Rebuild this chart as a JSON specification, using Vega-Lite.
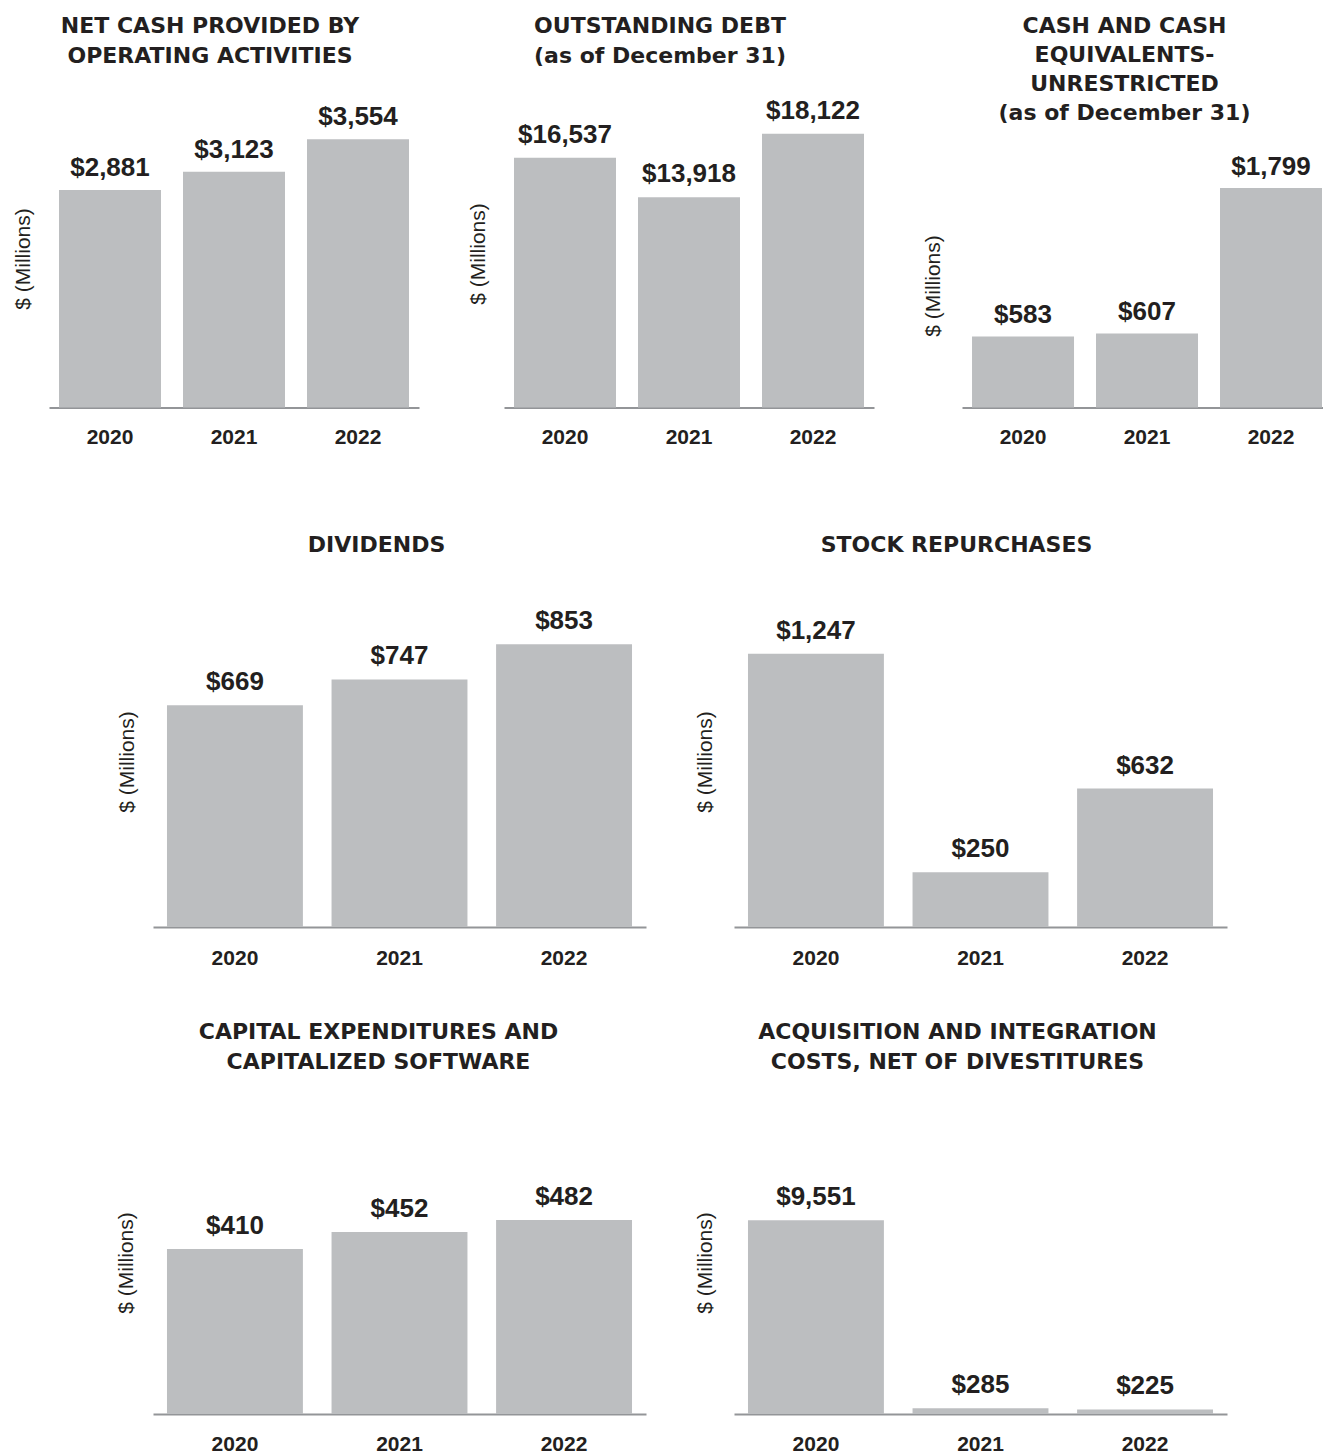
{
  "$schema": "https://vega.github.io/schema/vega-lite/v6.json",
  "padding": {"left": 12, "top": 14.5, "right": 0, "bottom": 0},
  "background": "white",
  "config": {
    "view": {"stroke": null},
    "font": "Liberation Sans",
    "axis": {"grid": false, "ticks": false, "tickSize": 0, "domainColor": "#939598", "domainWidth": 2, "labelFont": "Liberation Sans", "labelFontSize": 21, "labelFontWeight": "bold", "labelColor": "#231f20", "titleFont": "Liberation Sans", "titleFontSize": 21, "titleFontWeight": "normal", "titleColor": "#231f20"},
    "axisY": {"domain": false, "labels": false, "ticks": false},
    "axisX": {"labelAngle": 0, "title": null},
    "title": {"font": "DejaVu Sans", "fontSize": 22, "fontWeight": "bold", "color": "#231f20", "anchor": "middle", "frame": "group"},
    "bar": {"color": "#bcbec0"},
    "text": {"font": "Liberation Sans", "fontSize": 26, "fontWeight": "bold", "color": "#231f20", "baseline": "alphabetic"}
  },
  "datasets": {
    "ncf": [{"year": "2020", "value": 2881}, {"year": "2021", "value": 3123}, {"year": "2022", "value": 3554}],
    "debt": [{"year": "2020", "value": 16537}, {"year": "2021", "value": 13918}, {"year": "2022", "value": 18122}],
    "cash": [{"year": "2020", "value": 583}, {"year": "2021", "value": 607}, {"year": "2022", "value": 1799}],
    "div": [{"year": "2020", "value": 669}, {"year": "2021", "value": 747}, {"year": "2022", "value": 853}],
    "rep": [{"year": "2020", "value": 1247}, {"year": "2021", "value": 250}, {"year": "2022", "value": 632}],
    "capex": [{"year": "2020", "value": 410}, {"year": "2021", "value": 452}, {"year": "2022", "value": 482}],
    "acq": [{"year": "2020", "value": 9551}, {"year": "2021", "value": 285}, {"year": "2022", "value": 225}]
  },
  "spacing": 86.5,
  "vconcat": [
    {
      "spacing": 48,
      "hconcat": [
        {
          "width": 370, "height": 278,
          "data": {"name": "ncf"},
          "title": {"text": ["NET CASH PROVIDED BY", "OPERATING ACTIVITIES"], "offset": 36, "dx": -24, "lineHeight": 30},
          "encoding": {
            "x": {"field": "year", "type": "nominal", "scale": {"paddingInner": 0.1774, "paddingOuter": 0.0806}, "axis": {"labelPadding": 18.5}},
            "y": {"field": "value", "type": "quantitative", "scale": {"domain": [0, 3682], "nice": false}, "axis": {"title": "$ (Millions)", "titlePadding": 16, "titleY": 129}}
          },
          "layer": [
            {"mark": {"type": "bar"}},
            {"mark": {"type": "text", "dy": -14}, "encoding": {"text": {"field": "value", "type": "quantitative", "format": "$,.0f"}}}
          ]
        },
        {
          "width": 370, "height": 278,
          "data": {"name": "debt"},
          "title": {"text": ["OUTSTANDING DEBT", "(as of December 31)"], "offset": 30, "dx": -29, "lineHeight": 30},
          "encoding": {
            "x": {"field": "year", "type": "nominal", "scale": {"paddingInner": 0.1774, "paddingOuter": 0.0806}, "axis": {"labelPadding": 18.5}},
            "y": {"field": "value", "type": "quantitative", "scale": {"domain": [0, 18410], "nice": false}, "axis": {"title": "$ (Millions)", "titlePadding": 16, "titleY": 124}}
          },
          "layer": [
            {"mark": {"type": "bar"}},
            {"mark": {"type": "text", "dy": -15}, "encoding": {"text": {"field": "value", "type": "quantitative", "format": "$,.0f"}}}
          ]
        },
        {
          "width": 361, "height": 278,
          "data": {"name": "cash"},
          "title": {"text": ["CASH AND CASH", "EQUIVALENTS-", "UNRESTRICTED", "(as of December 31)"], "offset": 5, "dx": -18, "lineHeight": 29},
          "encoding": {
            "x": {"field": "year", "type": "nominal", "scale": {"paddingInner": 0.1774, "paddingOuter": 0.0444, "align": 0.91}, "axis": {"labelPadding": 18.5}},
            "y": {"field": "value", "type": "quantitative", "scale": {"domain": [0, 2279], "nice": false}, "axis": {"title": "$ (Millions)", "titlePadding": 19, "titleY": 156}}
          },
          "layer": [
            {"mark": {"type": "bar"}},
            {"mark": {"type": "text", "dy": -13}, "encoding": {"text": {"field": "value", "type": "quantitative", "format": "$,.0f"}}}
          ]
        }
      ]
    },
    {
      "spacing": 5,
      "hconcat": [
        {"width": 61, "height": 10, "data": {"values": []}, "mark": "point", "encoding": {}},
        {
          "spacing": 52,
          "vconcat": [
            {
              "spacing": 48,
              "hconcat": [
                {
                  "width": 493, "height": 331,
                  "data": {"name": "div"},
                  "title": {"text": "DIVIDENDS", "offset": 39, "dx": -23},
                  "encoding": {
                    "x": {"field": "year", "type": "nominal", "scale": {"paddingInner": 0.174, "paddingOuter": 0.085}, "axis": {"labelPadding": 20}},
                    "y": {"field": "value", "type": "quantitative", "scale": {"domain": [0, 999], "nice": false}, "axis": {"title": "$ (Millions)", "titlePadding": 16}}
                  },
                  "layer": [
                    {"mark": {"type": "bar"}},
                    {"mark": {"type": "text", "dy": -15}, "encoding": {"text": {"field": "value", "type": "quantitative", "format": "$,.0f"}}}
                  ]
                },
                {
                  "width": 493, "height": 331,
                  "data": {"name": "rep"},
                  "title": {"text": "STOCK REPURCHASES", "offset": 39, "dx": -24},
                  "encoding": {
                    "x": {"field": "year", "type": "nominal", "scale": {"paddingInner": 0.174, "paddingOuter": 0.085}, "axis": {"labelPadding": 20}},
                    "y": {"field": "value", "type": "quantitative", "scale": {"domain": [0, 1511], "nice": false}, "axis": {"title": "$ (Millions)", "titlePadding": 19}}
                  },
                  "layer": [
                    {"mark": {"type": "bar"}},
                    {"mark": {"type": "text", "dy": -15}, "encoding": {"text": {"field": "value", "type": "quantitative", "format": "$,.0f"}}}
                  ]
                }
              ]
            },
            {
              "spacing": 48,
              "hconcat": [
                {
                  "width": 493, "height": 303,
                  "data": {"name": "capex"},
                  "title": {"text": ["CAPITAL EXPENDITURES AND", "CAPITALIZED SOFTWARE"], "offset": 37, "dx": -21, "lineHeight": 30.5},
                  "encoding": {
                    "x": {"field": "year", "type": "nominal", "scale": {"paddingInner": 0.174, "paddingOuter": 0.085}, "axis": {"labelPadding": 19.5}},
                    "y": {"field": "value", "type": "quantitative", "scale": {"domain": [0, 753], "nice": false}, "axis": {"title": "$ (Millions)", "titlePadding": 17}}
                  },
                  "layer": [
                    {"mark": {"type": "bar"}},
                    {"mark": {"type": "text", "dy": -15}, "encoding": {"text": {"field": "value", "type": "quantitative", "format": "$,.0f"}}}
                  ]
                },
                {
                  "width": 493, "height": 303,
                  "data": {"name": "acq"},
                  "title": {"text": ["ACQUISITION AND INTEGRATION", "COSTS, NET OF DIVESTITURES"], "offset": 37, "dx": -23, "lineHeight": 30.5},
                  "encoding": {
                    "x": {"field": "year", "type": "nominal", "scale": {"paddingInner": 0.174, "paddingOuter": 0.085}, "axis": {"labelPadding": 19.5}},
                    "y": {"field": "value", "type": "quantitative", "scale": {"domain": [0, 14941], "nice": false}, "axis": {"title": "$ (Millions)", "titlePadding": 19}}
                  },
                  "layer": [
                    {"mark": {"type": "bar"}},
                    {"mark": {"type": "text", "dy": -15}, "encoding": {"text": {"field": "value", "type": "quantitative", "format": "$,.0f"}}}
                  ]
                }
              ]
            }
          ]
        }
      ]
    }
  ]
}
